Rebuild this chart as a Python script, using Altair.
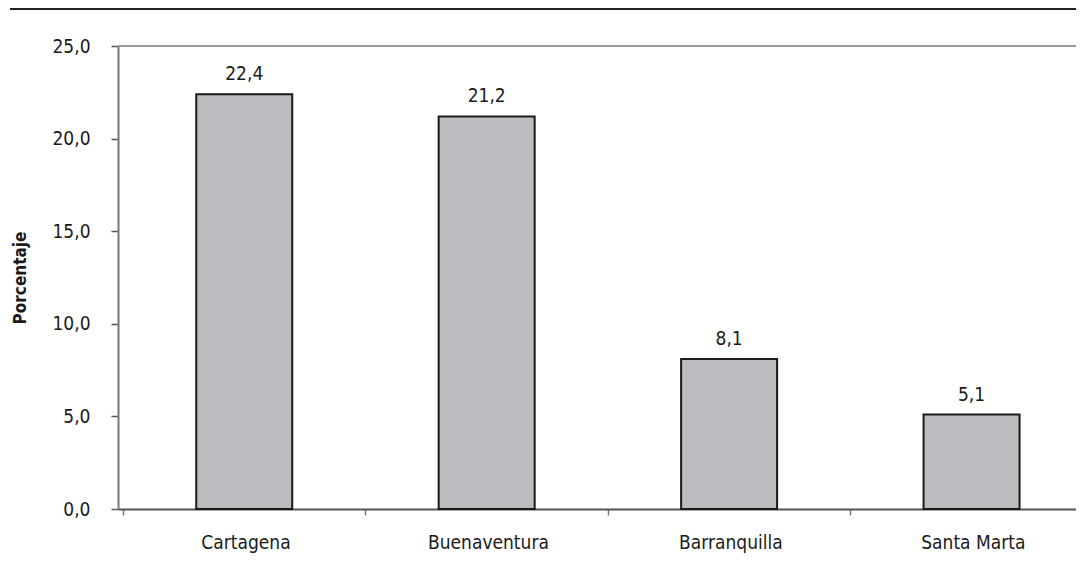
import altair as alt
import pandas as pd

categories = ["Cartagena", "Buenaventura", "Barranquilla", "Santa Marta"]
values = [22.4, 21.2, 8.1, 5.1]
y_ticks = [0, 5, 10, 15, 20, 25]

df = pd.DataFrame({"ciudad": categories, "valor": values})

FONT = "DejaVu Sans Condensed, Liberation Sans Narrow, Roboto, sans-serif"
STEP = 245.0
WIDTH = 958
cat_js = "[" + ",".join("'" + c + "'" for c in categories) + "]"

base = alt.Chart(df).transform_window(
    idx="row_number()"
).transform_calculate(
    xc="datum.idx - 0.5",
    lab="replace(format(datum.valor, '.1f'), '.', ',')",
)

x_enc = alt.X(
    "xc:Q",
    scale=alt.Scale(domain=[0, WIDTH / STEP], nice=False, zero=False),
    axis=alt.Axis(
        title=None,
        values=[0, 1, 2, 3],
        labelExpr=cat_js + "[datum.value]",
        labelOffset=STEP / 2,
        labelAngle=0,
        labelFont=FONT,
        labelFontSize=19,
        labelColor="#1a1a1a",
        labelPadding=18,
        labelFlush=False,
        labelOverlap=False,
        tickSize=6,
        tickWidth=1.5,
        tickColor="#777777",
        domainColor="#555555",
        domainWidth=2,
        grid=False,
    ),
)

y_enc = alt.Y(
    "valor:Q",
    scale=alt.Scale(domain=[0, 25], nice=False),
    axis=alt.Axis(
        title="Porcentaje",
        titleFont=FONT,
        titleFontSize=17,
        titleFontWeight="bold",
        titleColor="#1a1a1a",
        titlePadding=22,
        values=y_ticks,
        labelExpr="replace(format(datum.value, '.1f'), '.', ',')",
        labelFont=FONT,
        labelFontSize=19,
        labelColor="#1a1a1a",
        labelPadding=21,
        tickSize=7,
        tickWidth=1.5,
        tickColor="#555555",
        domainColor="#777777",
        domainWidth=2,
        grid=False,
    ),
)

bars = base.mark_bar(
    width=96, fill="#bbbcc0", stroke="#1a1a1a", strokeWidth=2
).encode(x=x_enc, y=y_enc)

labels = base.mark_text(
    dy=-10, baseline="bottom", font=FONT, fontSize=19, color="#1a1a1a"
).encode(x="xc:Q", y="valor:Q", text="lab:N")

top_frame = alt.Chart(pd.DataFrame({"v": [25]})).mark_rule(
    color="#999999", strokeWidth=2
).encode(y="v:Q", x=alt.value(0), x2=alt.value(WIDTH))

top_line = alt.Chart(pd.DataFrame({"v": [0]})).mark_rule(
    color="#222222", strokeWidth=2
).encode(x=alt.value(-108), x2=alt.value(WIDTH), y=alt.value(-37))

chart = alt.layer(top_line, top_frame, bars, labels).properties(
    width=WIDTH,
    height=463,
    autosize=alt.AutoSizeParams(type="none"),
    padding={"left": 110, "top": 38, "right": 0, "bottom": 48},
).configure_view(stroke=None).configure(background="white")

chart.save("out.html", embed_options={"renderer": "svg", "actions": False})
